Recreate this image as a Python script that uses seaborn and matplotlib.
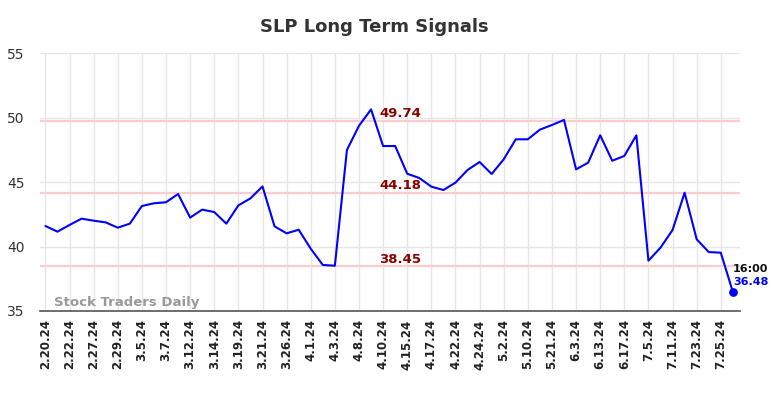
import numpy as np
import pandas as pd
import matplotlib
matplotlib.use('Agg')
import matplotlib.pyplot as plt
import seaborn as sns

# closing prices
prices = [41.59, 41.15, 41.67, 42.16, 42.0, 41.87, 41.46, 41.77, 43.14, 43.35,
          43.43, 44.07, 42.24, 42.86, 42.67, 41.77, 43.19, 43.73, 44.66, 41.56,
          41.02, 41.3, 39.83, 38.57, 38.51, 47.48, 49.36, 50.63, 47.79, 47.79,
          45.64, 45.31, 44.64, 44.38, 44.95, 45.93, 46.55, 45.62, 46.76, 48.31,
          48.31, 49.06, 49.42, 49.81, 45.98, 46.5, 48.62, 46.65, 47.02, 48.62,
          38.9, 39.91, 41.28, 44.17, 40.56, 39.57, 39.52, 36.48]

tick_labels = ['2.20.24', '2.22.24', '2.27.24', '2.29.24', '3.5.24', '3.7.24',
               '3.12.24', '3.14.24', '3.19.24', '3.21.24', '3.26.24', '4.1.24',
               '4.3.24', '4.8.24', '4.10.24', '4.15.24', '4.17.24', '4.22.24',
               '4.24.24', '5.2.24', '5.10.24', '5.21.24', '6.3.24', '6.13.24',
               '6.17.24', '7.5.24', '7.11.24', '7.23.24', '7.25.24']

signals = [49.74, 44.18, 38.45]
last_time = '16:00'

df = pd.DataFrame({'idx': np.arange(len(prices)), 'price': prices})

sns.set_style('white')
fig = plt.figure(figsize=(7.84, 3.98), dpi=100)
ax = fig.add_axes([0.051, 0.2186, 0.893, 0.6482])

# grid
for y in [35, 40, 45, 50, 55]:
    ax.axhline(y, color='#e6e6e6', lw=1, zorder=0)
for i in range(0, len(prices), 2):
    ax.axvline(i, color='#e6e6e6', lw=1, zorder=0)

# signal levels
for s in signals:
    ax.axhline(s, color='#ffcccc', lw=1.6, zorder=1)
    ax.text(27.7, s + 0.05, f'{s:.2f}', color='#8b0000', fontsize=9.5,
            fontweight='bold', ha='left', va='bottom', zorder=3)

sns.lineplot(data=df, x='idx', y='price', color='#0000ff', lw=1.5, ax=ax, zorder=2)
ax.scatter([df.idx.iloc[-1]], [df.price.iloc[-1]], s=28, color='#0000ff', zorder=4)
ax.text(df.idx.iloc[-1], df.price.iloc[-1] + 1.8, last_time, fontsize=8,
        fontweight='bold', color='#111111', ha='left', va='center')
ax.text(df.idx.iloc[-1], df.price.iloc[-1] + 0.8, f'{prices[-1]:.2f}', fontsize=8,
        fontweight='bold', color='#0000ff', ha='left', va='center')

ax.text(0.75, 35.65, 'Stock Traders Daily', fontsize=9.5, fontweight='bold',
        color='#999999', ha='left', va='center')

ax.set_xlim(-0.45, 57.6)
ax.set_ylim(35, 55)
ax.set_yticks([35, 40, 45, 50, 55])
ax.set_yticklabels(['35', '40', '45', '50', '55'], fontsize=10, color='#333333')
ax.set_xticks(range(0, len(prices) - 1, 2))
ax.set_xticklabels(tick_labels, rotation=90, fontsize=8.5, fontweight='bold',
                   color='#222222')
ax.tick_params(axis='x', length=0, pad=6)
ax.tick_params(axis='y', length=0, pad=11)
ax.set_xlabel('')
ax.set_ylabel('')
for side in ['top', 'right', 'left']:
    ax.spines[side].set_visible(False)
ax.spines['bottom'].set_color('#555555')
ax.spines['bottom'].set_linewidth(1.2)

fig.suptitle('SLP Long Term Signals', x=0.478, y=0.955, fontsize=13,
             fontweight='bold', color='#333333')

fig.savefig('out.png', dpi=100)
